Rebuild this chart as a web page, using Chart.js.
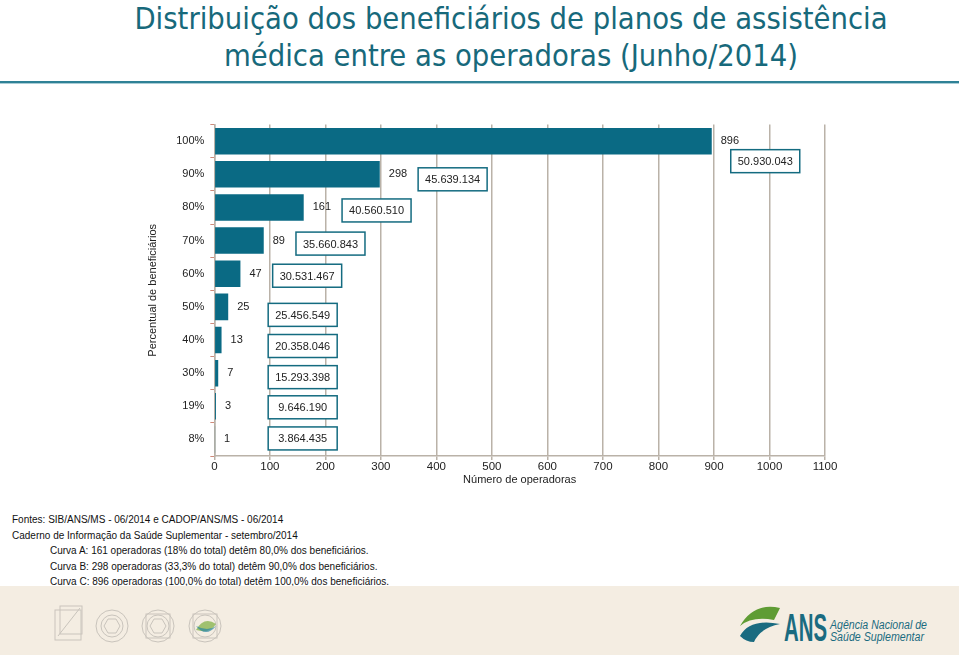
<!DOCTYPE html>
<html>
<head>
<meta charset="utf-8">
<script src="https://cdn.jsdelivr.net/npm/chart.js@4.4.1/dist/chart.umd.min.js"></script>
<style>
  html, body { margin: 0; padding: 0; }
  body { width: 959px; height: 655px; position: relative; overflow: hidden; background: #fff; font-family: "Liberation Sans", Arial, sans-serif; }
  .title { position: absolute; left: 62px; width: 898px; top: 0; text-align: center; color: #17697b;
           font-family: "Liberation Sans Narrow", "DejaVu Sans Condensed", "Open Sans", sans-serif; font-size: 30.6px; line-height: 37px; }
  .rule { position: absolute; left: 0; top: 81px; width: 959px; height: 2px; background: #2f8196; border-bottom: 1px solid #a9cdd6; }
  #wrap { position: absolute; left: 139px; top: 112px; width: 706px; height: 379px; }
  .notes { position: absolute; left: 12px; top: 512px; font-size: 10px; color: #111; line-height: 15.5px; }
  .notes .ind { padding-left: 38px; }
  .footer { position: absolute; left: 0; top: 586px; width: 959px; height: 69px; background: #f4ede2; }
</style>
</head>
<body>
<div class="title">Distribuição dos beneficiários de planos de assistência<br>médica entre as operadoras (Junho/2014)</div>
<div class="rule"></div>
<div id="wrap"><canvas id="chart"></canvas></div>
<div class="notes">
  <div>Fontes: SIB/ANS/MS - 06/2014 e CADOP/ANS/MS - 06/2014</div>
  <div>Caderno de Informação da Saúde Suplementar - setembro/2014</div>
  <div class="ind">Curva A: 161 operadoras (18% do total) detêm 80,0% dos beneficiários.</div>
  <div class="ind">Curva B: 298 operadoras (33,3% do total) detêm 90,0% dos beneficiários.</div>
  <div class="ind">Curva C: 896 operadoras (100,0% do total) detêm 100,0% dos beneficiários.</div>
</div>
<div class="footer">
  <svg width="959" height="69" style="position:absolute;left:0;top:0">
    <g fill="none" stroke="#c9c4bc" stroke-width="1">
      <rect x="55" y="24" width="26" height="30"/><rect x="60" y="20" width="22" height="28"/><line x1="58" y1="50" x2="80" y2="22"/>
      <circle cx="112" cy="40" r="16"/><circle cx="112" cy="40" r="11"/><polygon points="104,40 108,33 116,33 120,40 116,47 108,47"/>
      <circle cx="158" cy="40" r="16"/><circle cx="158" cy="40" r="11"/><rect x="146" y="28" width="24" height="24"/><polygon points="150,40 154,33 162,33 166,40 162,47 154,47"/>
      <circle cx="205" cy="40" r="16"/><circle cx="205" cy="40" r="11"/><rect x="193" y="28" width="24" height="24"/>
    </g>
    <path d="M196,44 q8,-14 20,-6 q-6,10 -20,6z" fill="#7cae3e" opacity="0.7"/>
    <path d="M196,40 q10,12 20,0 q-8,6 -20,0z" fill="#2a86a3" opacity="0.7"/>
    <path d="M780,22 q-26,-6 -40,18 q12,-10 34,-6z" fill="#5f9c34"/>
    <path d="M740,50 q10,-18 40,-12 q-20,4 -26,18 q-8,0 -14,-6z" fill="#1a6b80"/>
    <text x="784" y="55" font-family="Liberation Sans Narrow, Liberation Sans" font-weight="bold" font-size="38" textLength="43" lengthAdjust="spacingAndGlyphs" fill="#1a6b80">ANS</text>
    <text x="830" y="43" font-family="Liberation Sans Narrow, Liberation Sans" font-style="italic" font-size="12" textLength="97" lengthAdjust="spacingAndGlyphs" fill="#1a6b80">Agência Nacional de</text>
    <text x="830" y="55" font-family="Liberation Sans Narrow, Liberation Sans" font-style="italic" font-size="12" textLength="94" lengthAdjust="spacingAndGlyphs" fill="#1a6b80">Saúde Suplementar</text>
  </svg>
</div>
<script>
// faixas de beneficiários (eixo y, de cima para baixo)
const percentuais = ['100%', '90%', '80%', '70%', '60%', '50%', '40%', '30%', '19%', '8%'];
// número de operadoras em cada faixa
const operadoras = [896, 298, 161, 89, 47, 25, 13, 7, 3, 1];
// beneficiários acumulados (caixas)
const beneficiarios = ['50.930.043', '45.639.134', '40.560.510', '35.660.843', '30.531.467',
  '25.456.549', '20.358.046', '15.293.398', '9.646.190', '3.864.435'];
const xTicks = [0, 100, 200, 300, 400, 500, 600, 700, 800, 900, 1000, 1100];

// deslocamento vertical das caixas (px)
const boxShift = [20, 5, 3, 3, 2, 8, 6, 4, 1, -1];

const TEAL = '#0a6a84';
const GRID = '#bab2a8';
const FONT = '"Liberation Sans", Arial, sans-serif';

const rowLabels = {
  id: 'rowLabels',
  afterDatasetsDraw(chart) {
    const ctx = chart.ctx;
    const xs = chart.scales.x;
    const meta = chart.getDatasetMeta(0);
    const minLeft = xs.getPixelForValue(97);
    ctx.save();
    ctx.font = '11px ' + FONT;
    ctx.textBaseline = 'middle';
    meta.data.forEach((bar, i) => {
      const txt = String(operadoras[i]);
      const tx = bar.x + 9;
      ctx.fillStyle = '#222';
      ctx.textAlign = 'left';
      ctx.fillText(txt, tx, bar.y);
      const tw = ctx.measureText(txt).width;
      let left = Math.max(tx + tw + 11, minLeft);
      if (i === 0) left = bar.x + 19;
      const bw = 69, bh = 23;
      const cy = bar.y + boxShift[i];
      ctx.fillStyle = '#fff';
      ctx.fillRect(left, cy - bh / 2, bw, bh);
      ctx.strokeStyle = '#146b80';
      ctx.lineWidth = 1.5;
      ctx.strokeRect(left, cy - bh / 2, bw, bh);
      ctx.fillStyle = '#222';
      ctx.textAlign = 'center';
      ctx.fillText(beneficiarios[i], left + bw / 2, cy + 1);
    });
    ctx.restore();
  }
};

new Chart(document.getElementById('chart'), {
  type: 'bar',
  data: {
    labels: percentuais,
    datasets: [{
      data: operadoras,
      backgroundColor: TEAL,
      borderWidth: 0,
      barPercentage: 0.8,
      categoryPercentage: 1
    }]
  },
  options: {
    indexAxis: 'y',
    responsive: true,
    maintainAspectRatio: false,
    animation: false,
    layout: { padding: { top: 5, right: 20, left: 3, bottom: 0 } },
    plugins: {
      legend: { display: false },
      tooltip: { enabled: false }
    },
    scales: {
      x: {
        min: 0,
        max: 1100,
        afterBuildTicks(axis) { axis.ticks = xTicks.map(v => ({ value: v })); },
        grid: { color: GRID, lineWidth: 1.5, drawTicks: true, tickLength: 4 },
        border: { color: GRID, width: 1.5 },
        ticks: { color: '#222', font: { size: 11.5, family: FONT }, padding: 0, maxRotation: 0,
                 callback: v => String(v) },
        title: { display: true, text: 'Número de operadoras', color: '#222', font: { size: 11, family: FONT }, padding: { top: 0 } }
      },
      y: {
        grid: { drawOnChartArea: false, tickColor: '#d08a7a', tickLength: 4, offset: true },
        border: { color: GRID, width: 1.5 },
        ticks: { color: '#222', font: { size: 11, family: FONT }, padding: 6 },
        title: { display: true, text: 'Percentual de beneficiários', color: '#222', font: { size: 11, family: FONT }, padding: { bottom: 11 } }
      }
    }
  },
  plugins: [rowLabels]
});
</script>
</body>
</html>
